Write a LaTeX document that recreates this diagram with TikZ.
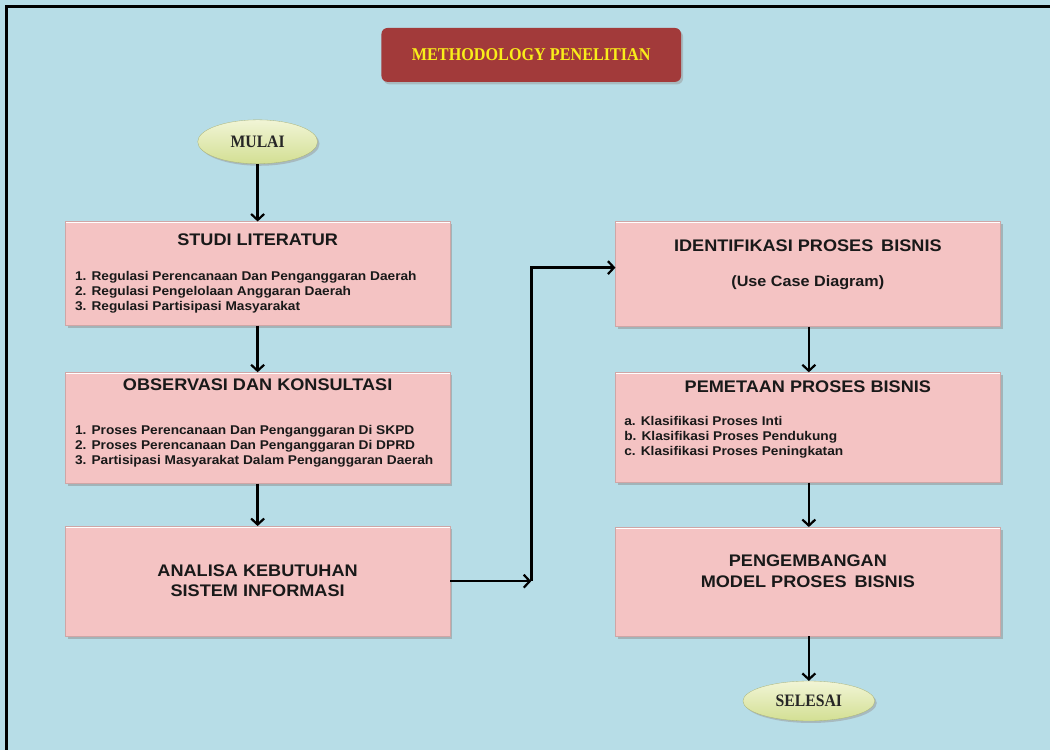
\documentclass[tikz,border=0pt]{standalone}
\usepackage{fontspec}
\setmainfont[FakeStretch=1.08]{Liberation Sans}
\newfontfamily\capfont[FakeStretch=0.9]{Liberation Serif}
\usetikzlibrary{shapes.geometric,shadows,arrows.meta}

\definecolor{bgblue}{HTML}{B7DDE7}
\definecolor{boxpink}{HTML}{F4C3C3}
\definecolor{headred}{HTML}{A23A3A}
\definecolor{headyellow}{HTML}{F9EE1A}
\definecolor{ovaltop}{HTML}{F1F5D6}
\definecolor{ovalbottom}{HTML}{D3DF93}

\tikzset{
  stepbox/.style={draw=boxpink!85!black, line width=0.4pt, fill=boxpink, inner sep=0pt,
    minimum width=385pt, drop shadow={shadow xshift=2.5pt, shadow yshift=-2.5pt, fill=black!45},
    path picture={\draw[white, line width=3pt] (path picture bounding box.north west) -- (path picture bounding box.north east);}},
  headbox/.style={fill=headred, rounded corners=6pt, minimum width=300pt, minimum height=54pt,
    drop shadow={shadow xshift=2pt, shadow yshift=-2.5pt, fill=black!40},
    font=\capfont\fontsize{18}{20}\selectfont\bfseries, text=headyellow},
  oval/.style={ellipse, draw=ovalbottom!80!black, line width=0.3pt, top color=ovaltop, bottom color=ovalbottom,
    inner sep=0pt, drop shadow={shadow xshift=2pt, shadow yshift=-2pt, fill=black!40},
    font=\capfont\fontsize{17.5}{20}\selectfont\bfseries, text=black!85},
  boxhead/.style={inner sep=0pt, font=\fontsize{16.8}{20}\selectfont\bfseries, text=black!90},
  boxlist/.style={inner sep=0pt, anchor=west, align=left, font=\fontsize{12.7}{15}\selectfont\bfseries, text=black!90},
  flow/.style={line width=2.6pt, -{Straight Barb[length=6pt, width=13pt, line width=2.2pt]}},
}

\begin{document}
\begin{tikzpicture}[x=1pt, y=-1pt]
  \fill[bgblue] (0,0) rectangle (1051,751);
  \draw[line width=3pt] (7,751) -- (7,7) -- (1051,7);
  \useasboundingbox (0,0) rectangle (1051,751);

  \node[headbox] (head) at (532,55) {METHODOLOGY PENELITIAN};

  \node[oval, minimum width=120pt, minimum height=44pt] (mulai) at (258,142) {MULAI};
  \node[oval, minimum width=132pt, minimum height=40pt] (selesai) at (810,702) {SELESAI};

  % kolom kiri
  \node[stepbox, minimum height=104pt] (studi) at (258,274) {};
  \node[boxhead] (studi-head) at (258,240) {STUDI LITERATUR};
  \node[boxlist] (studi-list) at (75,293) {1. Regulasi Perencanaan Dan Penganggaran Daerah\\
    2. Regulasi Pengelolaan Anggaran Daerah\\
    3. Regulasi Partisipasi Masyarakat};

  \node[stepbox, minimum height=111pt] (observasi) at (258,428.5) {};
  \node[boxhead] (observasi-head) at (258,385) {OBSERVASI DAN KONSULTASI};
  \node[boxlist] (observasi-list) at (75,447) {1. Proses Perencanaan Dan Penganggaran Di SKPD\\
    2. Proses Perencanaan Dan Penganggaran Di DPRD\\
    3. Partisipasi Masyarakat Dalam Penganggaran Daerah};

  \node[stepbox, minimum height=110pt] (analisa) at (258,582) {};
  \node[boxhead, align=center, font=\fontsize{16.8}{20}\selectfont\bfseries] (analisa-text) at (258,582) {ANALISA KEBUTUHAN\\SISTEM INFORMASI};

  % kolom kanan
  \node[stepbox, minimum height=105pt] (identifikasi) at (809,274.5) {};
  \node[boxhead] (identifikasi-head) at (809,246) {IDENTIFIKASI PROSES\, BISNIS};
  \node[boxhead, font=\fontsize{15}{16}\selectfont\bfseries] (identifikasi-sub) at (809,283) {(Use Case Diagram)};

  \node[stepbox, minimum height=110pt] (pemetaan) at (809,428) {};
  \node[boxhead] (pemetaan-head) at (809,387) {PEMETAAN PROSES BISNIS};
  \node[boxlist] (pemetaan-list) at (625,438) {a. Klasifikasi Proses Inti\\
    b. Klasifikasi Proses Pendukung\\
    c. Klasifikasi Proses Peningkatan};

  \node[stepbox, minimum height=109pt] (pengembangan) at (809,582.5) {};
  \node[boxhead, align=center, font=\fontsize{16.8}{21}\selectfont\bfseries] (pengembangan-text) at (809,572) {PENGEMBANGAN\\MODEL PROSES\, BISNIS};

  \coordinate (turn) at (532,582);
  \coordinate (bend) at (532,268);

  \draw[flow] (mulai) -- (studi);
  \draw[flow] (studi) -- (observasi);
  \draw[flow] (observasi) -- (analisa);
  \draw[flow] (analisa) -- (turn);
  \draw[flow] (turn) -- (bend) -- (bend -| identifikasi.west);
  \draw[flow] (identifikasi.south -| selesai) -- (pemetaan.north -| selesai);
  \draw[flow] (pemetaan.south -| selesai) -- (pengembangan.north -| selesai);
  \draw[flow] (pengembangan.south -| selesai) -- (selesai);
\end{tikzpicture}
\end{document}
